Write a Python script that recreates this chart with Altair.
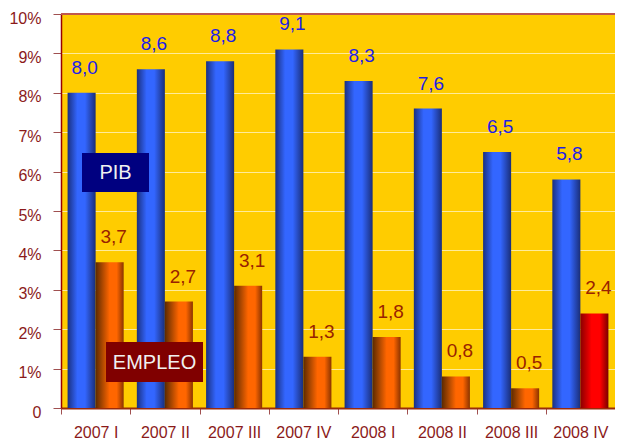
import altair as alt
import pandas as pd

quarters = ["2007 I", "2007 II", "2007 III", "2007 IV", "2008 I", "2008 II", "2008 III", "2008 IV"]
pib = [8.0, 8.6, 8.8, 9.1, 8.3, 7.6, 6.5, 5.8]
empleo = [3.7, 2.7, 3.1, 1.3, 1.8, 0.8, 0.5, 2.4]
series = ["PIB", "EMPLEO"]
highlight_quarter = "2008 IV"
y_max = 10

rows = []
for q, p, e in zip(quarters, pib, empleo):
    rows.append({"quarter": q, "serie": "PIB", "value": p, "label": f"{p:.1f}".replace(".", ",")})
    rows.append({"quarter": q, "serie": "EMPLEO", "value": e, "label": f"{e:.1f}".replace(".", ",")})
df = pd.DataFrame(rows)

FONT = "Liberation Sans"
DARK_RED = "#8B1A1A"

x_enc = alt.X(
    "quarter:N",
    sort=quarters,
    scale=alt.Scale(paddingInner=0, paddingOuter=0),
    axis=alt.Axis(
        title=None, labelAngle=0, tickBand="extent", labelFont=FONT, labelFontSize=16,
        labelColor=DARK_RED, labelPadding=10, tickColor="#A05050", tickSize=6,
        domainColor="#9A2A0A", domainWidth=2, grid=False,
    ),
)
xoff = alt.XOffset("serie:N", sort=series, scale=alt.Scale(domain=series, paddingInner=0, paddingOuter=0.235))
y_axis = alt.Axis(
    title=None, values=list(range(0, y_max + 1)), labelExpr="datum.value == 0 ? '0' : datum.value + '%'",
    labelFont=FONT, labelFontSize=16, labelColor=DARK_RED, labelPadding=12, labelOffset=4,
    tickColor="#A05050", tickSize=8, domainColor="#990000", domainWidth=1.5,
    grid=True, gridColor="#FFEB99", gridWidth=1,
)
y_scale = alt.Scale(domain=[0, y_max], nice=False)
y_enc = alt.Y("value:Q", scale=y_scale, axis=y_axis)

base = alt.Chart(df)

blue_grad = alt.LinearGradient(gradient="linear", x1=0, x2=1, y1=0, y2=0, stops=[
    alt.GradientStop(offset=0, color="#1A3080"),
    alt.GradientStop(offset=0.35, color="#3366FF"),
    alt.GradientStop(offset=0.62, color="#3366FF"),
    alt.GradientStop(offset=1, color="#1A2E78"),
])
orange_grad = alt.LinearGradient(gradient="linear", x1=0, x2=1, y1=0, y2=0, stops=[
    alt.GradientStop(offset=0, color="#5C2A00"),
    alt.GradientStop(offset=0.5, color="#FF6600"),
    alt.GradientStop(offset=0.75, color="#FF6600"),
    alt.GradientStop(offset=1, color="#8A3300"),
])
red_grad = alt.LinearGradient(gradient="linear", x1=0, x2=1, y1=0, y2=0, stops=[
    alt.GradientStop(offset=0, color="#8A0000"),
    alt.GradientStop(offset=0.4, color="#FF0000"),
    alt.GradientStop(offset=0.7, color="#FF0000"),
    alt.GradientStop(offset=1, color="#7A0000"),
])

pib_bars = base.transform_filter("datum.serie == 'PIB'").mark_bar(color=blue_grad).encode(x=x_enc, xOffset=xoff, y=y_enc)
emp_bars = base.transform_filter(f"datum.serie == 'EMPLEO' && datum.quarter != '{highlight_quarter}'").mark_bar(color=orange_grad).encode(x=x_enc, xOffset=xoff, y=y_enc)
red_bar = base.transform_filter(f"datum.serie == 'EMPLEO' && datum.quarter == '{highlight_quarter}'").mark_bar(color=red_grad).encode(x=x_enc, xOffset=xoff, y=y_enc)

top_border = alt.Chart(pd.DataFrame({"value": [y_max]})).mark_rule(color="#C0584D", strokeWidth=2).encode(y=y_enc)

pib_text = base.transform_filter("datum.serie == 'PIB'").mark_text(
    font=FONT, fontSize=19, color="#1E1EE6", baseline="alphabetic", dy=-19, dx=3
).encode(x=x_enc, xOffset=xoff, y=y_enc, text="label:N")
emp_text = base.transform_filter("datum.serie == 'EMPLEO'").mark_text(
    font=FONT, fontSize=19, color="#992200", baseline="alphabetic", dy=-19, dx=4
).encode(x=x_enc, xOffset=xoff, y=y_enc, text="label:N")

pib_box = alt.Chart(pd.DataFrame({"t": ["PIB"]})).mark_rect(color="#000080").encode(
    x=alt.value(21), x2=alt.value(88), y=alt.value(139), y2=alt.value(178))
pib_lbl = alt.Chart(pd.DataFrame({"t": ["PIB"]})).mark_text(
    font=FONT, fontSize=20, color="#F0F0F0", align="center", baseline="middle").encode(
    x=alt.value(54.5), y=alt.value(159), text="t:N")
emp_box = alt.Chart(pd.DataFrame({"t": ["EMPLEO"]})).mark_rect(color="#800000").encode(
    x=alt.value(45), x2=alt.value(142), y=alt.value(328), y2=alt.value(368))
emp_lbl = alt.Chart(pd.DataFrame({"t": ["EMPLEO"]})).mark_text(
    font=FONT, fontSize=20, color="#F0F0F0", align="center", baseline="middle").encode(
    x=alt.value(93.5), y=alt.value(349), text="t:N")

chart = alt.layer(
    pib_bars, emp_bars, red_bar, top_border, pib_text, emp_text, pib_box, pib_lbl, emp_box, emp_lbl
).properties(
    width=554, height=394,
    padding={"left": 53, "top": 6, "right": 0, "bottom": 35},
    autosize="none", background="white",
).configure_view(fill="#FFCC00", strokeOpacity=0)

chart.save("out.html", embed_options={"renderer": "svg", "actions": False})
